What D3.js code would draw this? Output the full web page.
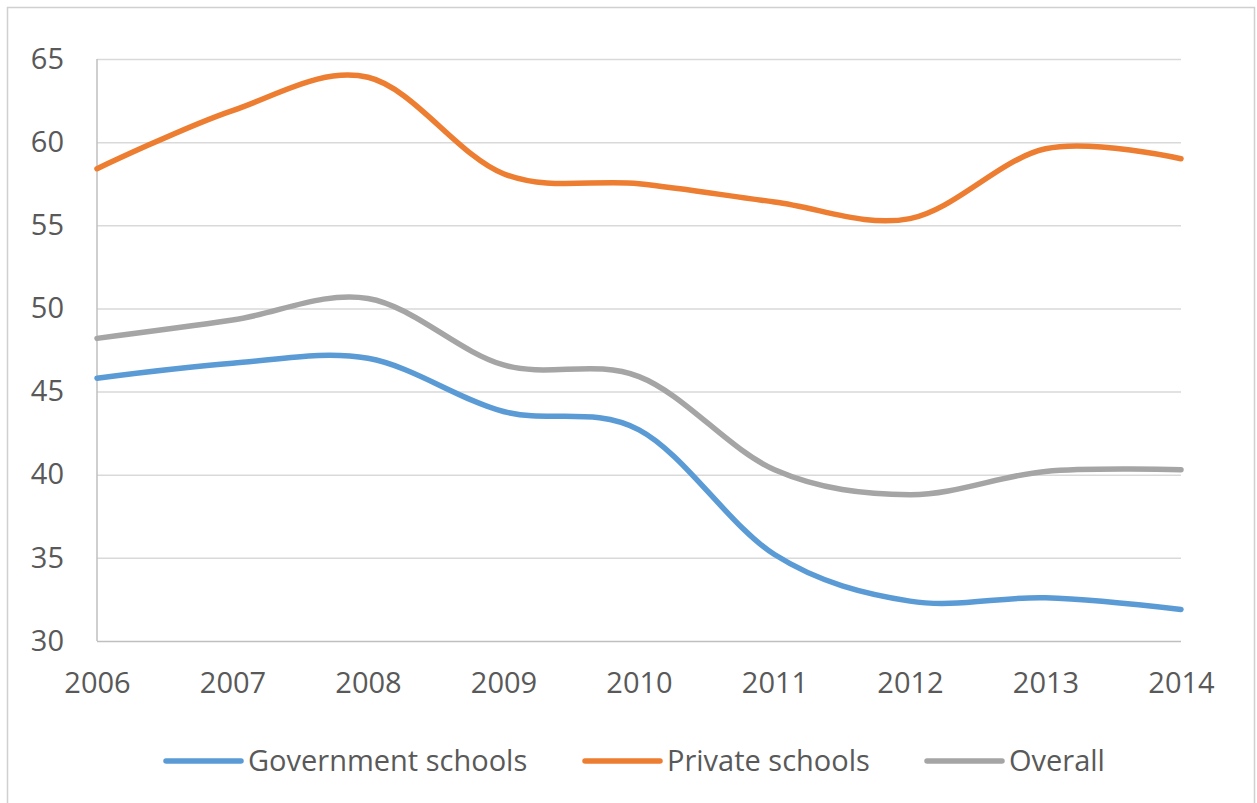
<!DOCTYPE html>
<html>
<head>
<meta charset="utf-8">
<script src="https://cdn.jsdelivr.net/npm/d3@7"></script>
<style>
  body { margin: 0; background: #fff; }
  text { font-family: "Open Sans", "Liberation Sans", sans-serif; fill: #595959; }
</style>
</head>
<body>
<script>
// General constants
const WIDTH = 1257;
const HEIGHT = 803;

// Chart data
const years = [2006, 2007, 2008, 2009, 2010, 2011, 2012, 2013, 2014];
const government = [45.8, 46.7, 47.0, 43.8, 42.7, 35.2, 32.4, 32.6, 31.9];
const privateSchools = [58.4, 61.9, 63.9, 58.1, 57.5, 56.4, 55.4, 59.6, 59.0];
const overall = [48.2, 49.3, 50.6, 46.6, 45.9, 40.3, 38.8, 40.2, 40.3];
const yTicks = [30, 35, 40, 45, 50, 55, 60, 65];

const seriesNames = ["Government schools", "Private schools", "Overall"];
const seriesColors = ["#5B9BD5", "#ED7D31", "#A5A5A5"];
const seriesValues = [government, privateSchools, overall];

/**
 * Plot area bounds
 */
const plotLeft = 97, plotRight = 1181, plotTop = 59, plotBottom = 641;

const svg = d3.select("body")
              .append("svg")
              .attr("width", WIDTH)
              .attr("height", HEIGHT);

// outer chart frame (no bottom edge visible in the picture)
svg.append("path")
   .attr("d", `M7.5,${HEIGHT} V7.5 H1254.5 V${HEIGHT}`)
   .attr("fill", "none")
   .attr("stroke", "#D0D0D0")
   .attr("stroke-width", 1.5);

var x = d3.scaleLinear()
          .domain([years[0], years[years.length - 1]])
          .range([plotLeft, plotRight]);

var y = d3.scaleLinear()
          .domain([30, 65])
          .range([plotBottom, plotTop]);

/** Gridlines and y labels */
var yAxis = svg.append("g")
               .attr("transform", `translate(${plotLeft},0)`)
               .call(d3.axisLeft(y).tickValues(yTicks).tickSize(-(plotRight - plotLeft)).tickPadding(33));
yAxis.select(".domain").remove();
yAxis.selectAll(".tick line")
     .attr("stroke", function(d) { return d === 30 ? "#BFBFBF" : "#D9D9D9"; })
     .attr("stroke-width", 1.5);
yAxis.selectAll(".tick text")
     .style("font-size", "29px")
     .attr("fill", "#595959");

// vertical axis line on the left edge
svg.append("line")
   .attr("x1", plotLeft).attr("x2", plotLeft)
   .attr("y1", plotTop).attr("y2", plotBottom)
   .attr("stroke", "#BFBFBF")
   .attr("stroke-width", 1.5);

/** X labels */
var xAxis = svg.append("g")
               .attr("transform", `translate(0,${plotBottom})`)
               .call(d3.axisBottom(x).tickValues(years).tickFormat(d3.format("d")).tickSize(0).tickPadding(31));
xAxis.select(".domain").remove();
xAxis.selectAll(".tick text")
     .style("font-size", "29px")
     .attr("fill", "#595959");

/** Smoothed lines, Excel style */
var line = d3.line()
             .x(function(d, i) { return x(years[i]); })
             .y(function(d) { return y(d); })
             .curve(d3.curveCatmullRom.alpha(0));

svg.selectAll(".series")
   .data(seriesValues)
   .enter()
   .append("path")
   .attr("class", "series")
   .attr("d", line)
   .attr("fill", "none")
   .attr("stroke", function(d, i) { return seriesColors[i]; })
   .attr("stroke-width", 5.5)
   .attr("stroke-linecap", "round");

/** Legend */
const legendX = [166, 585, 927];
const legendY = 761;
var legend = svg.selectAll(".legend")
                .data(seriesNames)
                .enter()
                .append("g")
                .attr("class", "legend")
                .attr("transform", function(d, i) { return `translate(${legendX[i]},${legendY})`; });

legend.append("line")
      .attr("x1", 0).attr("x2", 75)
      .attr("stroke", function(d, i) { return seriesColors[i]; })
      .attr("stroke-width", 5.5)
      .attr("stroke-linecap", "round");

legend.append("text")
      .attr("x", 82)
      .attr("dy", "0.35em")
      .style("font-size", "29px")
      .text(function(d) { return d; });
</script>
</body>
</html>
